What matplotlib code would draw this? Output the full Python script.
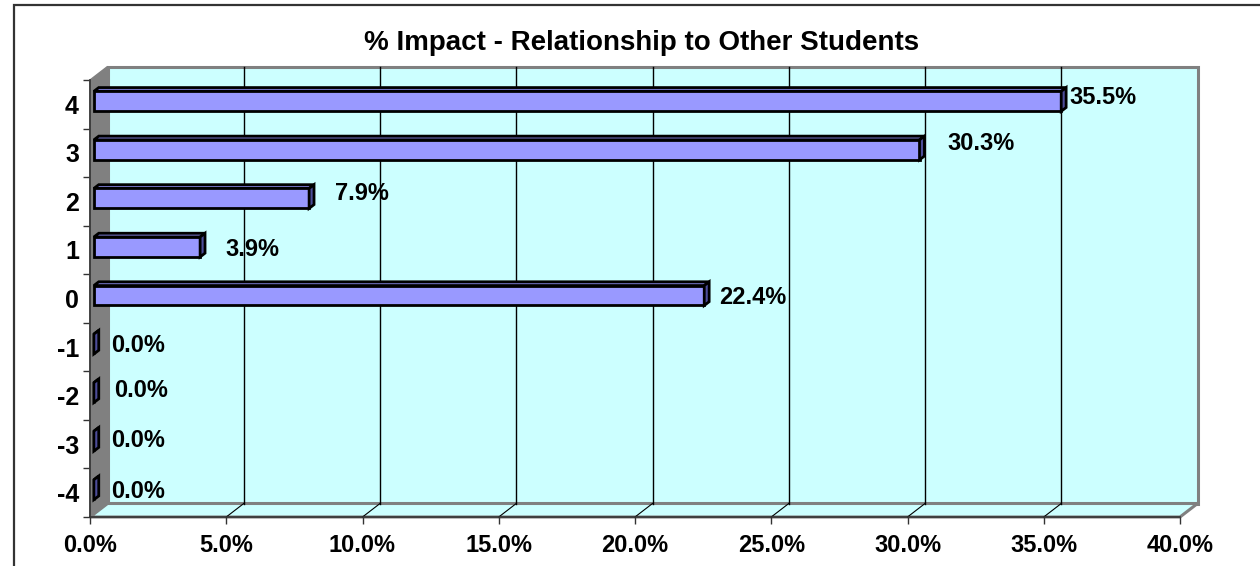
import matplotlib
matplotlib.use("Agg")
import matplotlib.pyplot as plt
from matplotlib.patches import Polygon, Rectangle
import numpy as np

# ---- data ----
categories = [-4, -3, -2, -1, 0, 1, 2, 3, 4]
values = [0.0, 0.0, 0.0, 0.0, 22.4, 3.9, 7.9, 30.3, 35.5]
x_ticks = [0, 5, 10, 15, 20, 25, 30, 35, 40]
x_tick_labels = ["0.0%", "5.0%", "10.0%", "15.0%", "20.0%", "25.0%", "30.0%", "35.0%", "40.0%"]
title = "% Impact - Relationship to Other Students"

# ---- style / layout ----
W, H, DPI = 1260, 566, 100
FONT = "Liberation Sans"
FS = 17
FS_Y = 18
FS_TITLE = 20
label_nudge_px = [(12, 2), (12, -1), (15, -2), (12, 1), (10, 2), (20, 3), (21, -5), (23, -6), (3, -4)]

fig = plt.figure(figsize=(W / DPI, H / DPI), dpi=DPI)
fig.patch.set_facecolor("white")

# outer chart frame (extends past right/bottom edge)
fig.add_artist(Rectangle((14 / W, -0.05), 1.1, 1 - 5 / H + 0.05, transform=fig.transFigure,
                         fill=False, edgecolor="#333333", lw=1.6))

left, right, top, bottom = 90, 1180, 80, 517
ax = fig.add_axes([left / W, 1 - bottom / H, (right - left) / W, (bottom - top) / H])
ax.set_facecolor("none")
ax.set_xlim(0, 40)
ax.set_ylim(-4.5, 4.5)

# 3D depth vector in data units
DX, DY = 17.5, 13.5
ppx = (right - left) / 40.0
ppy = (bottom - top) / 9.0
ddx, ddy = DX / ppx, DY / ppy

x0, x1 = ax.get_xlim()
y0, y1 = ax.get_ylim()

# back wall
ax.add_patch(Rectangle((x0 + ddx, y0 + ddy), x1 - x0, y1 - y0, facecolor="#CCFFFF",
                       edgecolor="#808080", lw=2.2, zorder=1, clip_on=False))
# floor
ax.add_patch(Polygon([(x0, y0), (x0 + ddx, y0 + ddy), (x1 + ddx, y0 + ddy), (x1, y0)],
                     closed=True, facecolor="#CCFFFF", edgecolor="#808080", lw=2.2,
                     zorder=1, clip_on=False))
# gridlines on back wall and floor
for xt in x_ticks[1:-1]:
    ax.plot([xt + ddx, xt + ddx], [y0 + ddy, y1 + ddy], color="black", lw=1.0, zorder=2, clip_on=False)
    ax.plot([xt, xt + ddx], [y0, y0 + ddy], color="black", lw=0.8, zorder=2, clip_on=False)
# side wall
ax.add_patch(Polygon([(x0, y0), (x0 + ddx, y0 + ddy), (x0 + ddx, y1 + ddy), (x0, y1)],
                     closed=True, facecolor="#808080", edgecolor="#808080", lw=1,
                     zorder=3, clip_on=False))

# bars
f_front, f_back = 0.22, 0.50
bh = 0.41
yc = np.array(categories, dtype=float)
vals = np.array(values)
ax.barh(yc + f_front * ddy, vals, left=f_front * ddx, height=bh, color="#9999FF",
        edgecolor="black", lw=2.0, zorder=5)
for c, v in zip(yc, vals):
    fx, fy = f_front * ddx, f_front * ddy
    bx, by = f_back * ddx, f_back * ddy
    ytf, ybf = c + bh / 2 + fy, c - bh / 2 + fy
    ytb, ybb = c + bh / 2 + by, c - bh / 2 + by
    # top face
    ax.add_patch(Polygon([(fx, ytf), (bx, ytb), (v + bx, ytb), (v + fx, ytf)], closed=True,
                         facecolor="#7777CC", edgecolor="black", lw=2.0, zorder=4,
                         joinstyle="miter", clip_on=False))
    # end cap
    ax.add_patch(Polygon([(v + fx, ybf), (v + fx, ytf), (v + bx, ytb), (v + bx, ybb)], closed=True,
                         facecolor="#4D4D99", edgecolor="black", lw=2.0, zorder=6,
                         joinstyle="miter", clip_on=False))

# data labels
for (c, v), (ndx, ndy) in zip(zip(yc, vals), label_nudge_px):
    ax.annotate(f"{v:.1f}%", xy=(v + f_back * ddx, c + f_front * ddy),
                xytext=(ndx * 72 / DPI, -ndy * 72 / DPI), textcoords="offset points",
                ha="left", va="center", fontsize=FS, fontweight="bold", family=FONT,
                zorder=7, annotation_clip=False)

# axes, ticks
for s in ["top", "right"]:
    ax.spines[s].set_visible(False)
for s in ["left", "bottom"]:
    ax.spines[s].set_color("#333333")
    ax.spines[s].set_linewidth(1.2)
    ax.spines[s].set_zorder(3.5)

ax.set_xticks(x_ticks)
ax.set_xticklabels(x_tick_labels, fontsize=FS, fontweight="bold", family=FONT)
ax.tick_params(axis="x", direction="out", length=5, width=1, color="#333333", pad=7.5)

ax.set_yticks(categories)
ax.set_yticklabels([str(c) for c in categories], fontsize=FS_Y, fontweight="bold", family=FONT)
ax.set_yticks(np.arange(-4.5, 4.6, 1.0), minor=True)
ax.tick_params(axis="y", which="major", length=0, pad=8)
ax.tick_params(axis="y", which="minor", direction="out", length=5, width=1, color="#333333")

fig.text(642 / W, 1 - 49.5 / H, title, ha="center", va="baseline", fontsize=FS_TITLE,
         fontweight="bold", family=FONT)

fig.savefig("out.png", dpi=DPI)
